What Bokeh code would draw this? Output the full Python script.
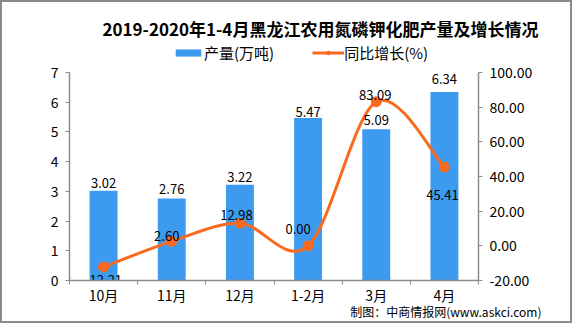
from bokeh.plotting import figure
from bokeh.models import (Range1d, LinearAxis, FixedTicker, NumeralTickFormatter,
                          ColumnDataSource, Legend, LegendItem, Title)
from bokeh.embed import file_html
from bokeh.resources import INLINE
from bokeh.core.properties import value

# ---------------- data ----------------
categories = ["10月", "11月", "12月", "1-2月", "3月", "4月"]
output = [3.02, 2.76, 3.22, 5.47, 5.09, 6.34]          # 产量(万吨)
growth = [-12.21, 2.60, 12.98, 0.00, 83.09, 45.41]     # 同比增长(%)
left_ticks = [0, 1, 2, 3, 4, 5, 6, 7]
right_ticks = [-20, 0, 20, 40, 60, 80, 100]
title_text = "2019-2020年1-4月黑龙江农用氮磷钾化肥产量及增长情况"
legend_bar = "产量(万吨)"
legend_line = "同比增长(%)"
footer_text = "制图：中商情报网(www.askci.com)"

# ---------------- style / layout (canvas px) ----------------
BLUE = "#3D9BEF"
ORANGE = "#F96A1F"
AXIS = "#8C8C8C"
FONT = "Noto Sans CJK SC"
BW = 2                                # outer border width (css)
W, H = 576 - 2 * BW, 327 - 2 * BW     # inner canvas size
AX_L, AX_R, AX_T, AX_B = 69, 478, 72, 280   # axis extents on the page
FRAME_T = 40                                # frame extends above the axes (room for legend)

FL, FR, FT, FB = AX_L - BW, AX_R - BW, FRAME_T - BW, AX_B - BW

bar_label_dy = [-7.5, -9, -7.6, -5.5, -9, -13]
line_label_dx = [0, -5, -3.5, -10, -1, -2]
line_label_dy = [13, -5.5, -8.5, -16.5, -7, 28]

n = len(categories)
xs = [i + 0.5 for i in range(n)]

# ranges extended upward so the axes (bounded) end at AX_T while the frame reaches FRAME_T
ext = (AX_B - FRAME_T) / (AX_B - AX_T)
l0, l1 = left_ticks[0], left_ticks[-1]
r0, r1 = right_ticks[0], right_ticks[-1]

p = figure(width=W, height=H, x_range=Range1d(0, n),
           y_range=Range1d(l0, l0 + (l1 - l0) * ext),
           output_backend="svg", toolbar_location=None,
           min_border_left=FL, min_border_right=W - FR, min_border_top=FT, min_border_bottom=H - FB)
p.styles = {"border": f"{BW}px solid #8A8A8A"}
p.extra_y_ranges = {"pct": Range1d(r0, r0 + (r1 - r0) * ext)}
p.xgrid.grid_line_color = None
p.ygrid.grid_line_color = None
p.outline_line_color = None
p.background_fill_color = "white"
p.border_fill_color = "white"

# title
p.title.text = title_text
p.title.align = "left"
p.title.offset = 102 - AX_L
p.title.standoff = 0
p.title.text_font = FONT
p.title.text_font_size = "17px"
p.title.text_font_style = "bold"
p.title.text_color = "black"

# bars
bar_src = ColumnDataSource(dict(x=xs, v=output, lab=[f"{v:.2f}" for v in output], dy=bar_label_dy))
bars = p.vbar(x="x", top="v", width=0.41, source=bar_src, fill_color=BLUE, line_color=None)

# smooth line (Catmull-Rom -> cubic Bezier through the data points)
pts = list(zip(xs, growth))
bz = dict(x0=[], y0=[], x1=[], y1=[], cx0=[], cy0=[], cx1=[], cy1=[])
for i in range(n - 1):
    a = pts[max(i - 1, 0)]
    b = pts[i]
    c = pts[i + 1]
    d = pts[min(i + 2, n - 1)]
    bz["x0"].append(b[0]); bz["y0"].append(b[1])
    bz["x1"].append(c[0]); bz["y1"].append(c[1])
    bz["cx0"].append(b[0] + (c[0] - a[0]) / 6); bz["cy0"].append(b[1] + (c[1] - a[1]) / 6)
    bz["cx1"].append(c[0] - (d[0] - b[0]) / 6); bz["cy1"].append(c[1] - (d[1] - b[1]) / 6)
curve = p.bezier(x0="x0", y0="y0", x1="x1", y1="y1", cx0="cx0", cy0="cy0", cx1="cx1", cy1="cy1",
                 source=ColumnDataSource(bz), y_range_name="pct", line_color=ORANGE, line_width=3)

line_src = ColumnDataSource(dict(x=xs, v=growth, lab=[f"{v:.2f}" for v in growth],
                                 dx=line_label_dx, dy=line_label_dy))
dots = p.scatter(x="x", y="v", source=line_src, y_range_name="pct", size=10,
                 fill_color=ORANGE, line_color=ORANGE)

# value labels
p.text(x="x", y="v", text="lab", source=bar_src, y_offset="dy", text_align="center",
       text_baseline="middle", text_font=value(FONT), text_font_size="13px", text_color="black")
p.text(x="x", y="v", text="lab", source=line_src, y_range_name="pct", x_offset="dx", y_offset="dy",
       text_align="center", text_baseline="middle", text_font=value(FONT),
       text_font_size="13px", text_color="black")

# axes
xa = p.xaxis[0]
xa.ticker = FixedTicker(ticks=xs, minor_ticks=list(range(n + 1)))
xa.major_label_overrides = {x: c for x, c in zip(xs, categories)}
xa.major_tick_line_color = None
xa.major_tick_out = 0
xa.minor_tick_line_color = AXIS
xa.minor_tick_out = 4
xa.minor_tick_in = 0
xa.major_label_standoff = 0

ya = p.yaxis[0]
ya.ticker = FixedTicker(ticks=left_ticks)
ya.bounds = (l0, l1)
ya.minor_tick_line_color = None

ra = LinearAxis(y_range_name="pct", ticker=FixedTicker(ticks=right_ticks),
                formatter=NumeralTickFormatter(format="0.00"), bounds=(r0, r1))
ra.minor_tick_line_color = None
p.add_layout(ra, "right")

for ax in (xa, ya, ra):
    ax.axis_line_color = AXIS
    ax.axis_line_width = 1.5
    ax.major_label_text_font = FONT
    ax.major_label_text_font_size = "14px"
    ax.major_label_text_color = "black"
for ax in (ya, ra):
    ax.major_tick_line_color = AXIS
    ax.major_tick_out = 4
    ax.major_tick_in = 0
    ax.major_label_standoff = 7

# legend (inside the extended frame, above the axes' top)
LEG_H = 22
legend = Legend(items=[LegendItem(label=legend_bar, renderers=[bars]),
                       LegendItem(label=legend_line, renderers=[curve, dots])],
                orientation="horizontal",
                location=(172 - AX_L, AX_B - (52.5 + LEG_H / 2)),
                glyph_width=32, glyph_height=9, label_height=LEG_H, label_standoff=0,
                spacing=38, padding=0, margin=0,
                border_line_color=None, background_fill_alpha=0,
                label_text_font=FONT, label_text_font_size="15px", label_text_color="black")
p.add_layout(legend)

# footer (below the x axis)
footer = Title(text=footer_text, align="right", vertical_align="top",
               offset=-(541 - AX_R), standoff=-10,
               text_font=FONT, text_font_size="12px", text_font_style="normal",
               text_color="black")
p.add_layout(footer, "below")

open("out.html", "w").write(file_html(p, INLINE))
